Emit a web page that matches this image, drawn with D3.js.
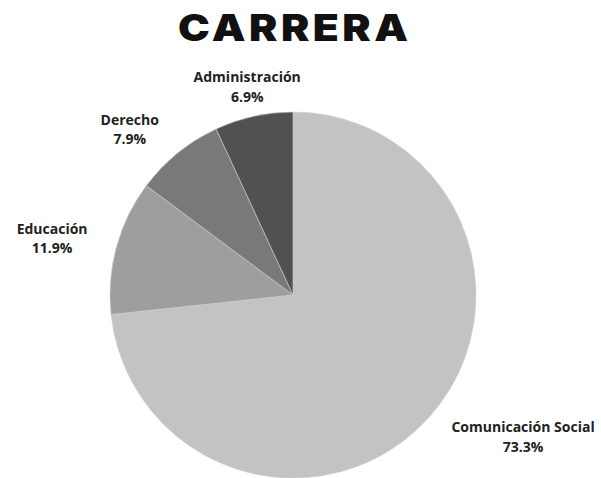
<!DOCTYPE html>
<html>
<head>
<meta charset="utf-8">
<script src="https://cdn.jsdelivr.net/npm/d3@7"></script>
<style>
  html, body { margin: 0; padding: 0; background: #ffffff; }
  svg { display: block; }
</style>
</head>
<body>
<svg id="chart" width="601" height="478"></svg>
<script>
// Career distribution
const categories = ["Comunicación Social", "Educación", "Derecho", "Administración"];
const percentages = [73.3, 11.9, 7.9, 6.9];
const sliceColors = ["#c4c2c3", "#9f9d9e", "#7a7879", "#525051"];
const titleText = "CARRERA";

const width = 601, height = 478;
const cx = 293, cy = 295, radius = 183, labelRadius = 213;

const svg = d3.select("#chart");

// Title: heavy caps, spread horizontally to the target width
const titleWidth = 230, titleCenter = 293;
const title = svg.append("text")
  .attr("x", 0)
  .attr("y", 0)
  .attr("font-family", "Inter, 'DejaVu Sans', sans-serif")
  .attr("font-weight", 900)
  .attr("font-size", 37)
  .attr("letter-spacing", 3)
  .attr("fill", "#111111")
  .text(titleText);
const tb = title.node().getBBox();
const natural = tb.width - 3; // trailing letter-spacing
const sx = titleWidth / natural;
title.attr("transform", `translate(${titleCenter - titleWidth / 2},41) scale(${sx},1)`);

const data = categories.map((c, i) => ({ name: c, value: percentages[i], color: sliceColors[i] }));

const pie = d3.pie().sort(null).value(d => d.value);
const arc = d3.arc().innerRadius(0).outerRadius(radius);
const arcs = pie(data);

const g = svg.append("g").attr("transform", `translate(${cx},${cy})`);

g.selectAll("path.slice")
  .data(arcs)
  .join("path")
  .attr("class", "slice")
  .attr("d", arc)
  .attr("fill", d => d.data.color)
  .attr("stroke", "#d0cecf")
  .attr("stroke-width", 0.6);

// Labels outside each slice: anchored on a ring, pushed away from the pie horizontally
const labels = g.selectAll("text.label")
  .data(arcs)
  .join("text")
  .attr("class", "label")
  .attr("font-family", "'Open Sans', 'Noto Sans', sans-serif")
  .attr("font-weight", 700)
  .attr("font-size", 14)
  .attr("fill", "#222222")
  .each(function (d) {
    const a = (d.startAngle + d.endAngle) / 2;
    const s = Math.sin(a), c = Math.cos(a);
    const x = labelRadius * s, y = -labelRadius * c;
    const anchor = s > 0.5 ? "start" : (s < -0.5 ? "end" : "middle");
    const t = d3.select(this).attr("text-anchor", anchor);
    t.append("tspan").attr("x", x).attr("y", y - 5).text(d.data.name);
    t.append("tspan").attr("x", x).attr("y", y + 14.5).text(d.data.value.toFixed(1) + "%");
  });

// second line is centered under the first line
labels.each(function () {
  const t = d3.select(this);
  const spans = t.selectAll("tspan").nodes();
  const first = spans[0].getBBox();
  const mid = first.x + first.width / 2;
  d3.select(spans[0]).attr("x", mid).attr("text-anchor", "middle");
  d3.select(spans[1]).attr("x", mid).attr("text-anchor", "middle");
  t.attr("text-anchor", "middle");
});
</script>
</body>
</html>
